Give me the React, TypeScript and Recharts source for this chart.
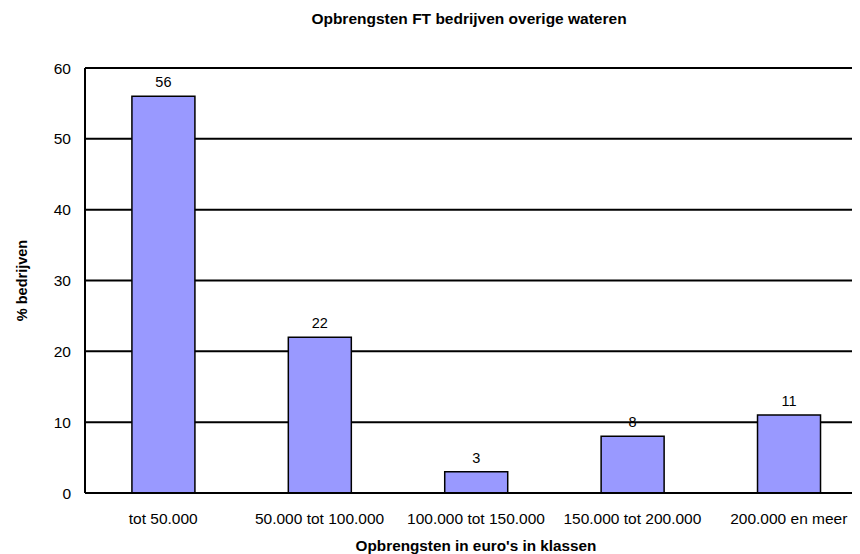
import { BarChart, Bar, XAxis, YAxis, CartesianGrid, LabelList, Label } from "recharts";

const categories = [
  "tot 50.000",
  "50.000 tot 100.000",
  "100.000 tot 150.000",
  "150.000 tot 200.000",
  "200.000 en meer",
];
const percentages = [56, 22, 3, 8, 11];
const yTicks = [0, 10, 20, 30, 40, 50, 60];

const data = categories.map((name, i) => ({ name, value: percentages[i] }));

const font = "Arial, 'Liberation Sans', sans-serif";

const App = () => {
  return (
    <div style={{ position: "relative", width: 852, height: 546, overflow: "hidden", fontFamily: font }}>
      <div
        style={{
          position: "absolute",
          top: 3,
          left: 61,
          width: 800,
          textAlign: "center",
          fontWeight: "bold",
          fontSize: 15.5,
          lineHeight: "15px",
          color: "#000",
        }}
      >
        Opbrengsten FT bedrijven overige wateren
      </div>
      <BarChart
        width={870}
        height={546}
        data={data}
        margin={{ top: 60, right: 11, bottom: 0, left: 0 }}
        barCategoryGap="30%"
        style={{ fontFamily: font }}
      >
        <CartesianGrid vertical={false} stroke="#000" strokeWidth={2} />
        <XAxis
          dataKey="name"
          height={61}
          tickSize={0}
          tickMargin={20}
          tickLine={false}
          axisLine={{ stroke: "#000", strokeWidth: 2 }}
          tick={{ fill: "#000", fontSize: 15.5 }}
          interval={0}
        >
          <Label
            value="Opbrengsten in euro's in klassen"
            position="insideBottom"
            offset={3}
            style={{ fontWeight: "bold", fontSize: 15.3, fill: "#000" }}
          />
        </XAxis>
        <YAxis
          width={77}
          domain={[0, 60]}
          ticks={yTicks}
          tickSize={0}
          tickMargin={14}
          tickLine={false}
          axisLine={{ stroke: "#000", strokeWidth: 2 }}
          tick={{ fill: "#000", fontSize: 15.5 }}
        >
          <Label
            value="% bedrijven"
            angle={-90}
            position="insideLeft"
            offset={14}
            style={{ textAnchor: "middle", fontWeight: "bold", fontSize: 14.5, fill: "#000" }}
          />
        </YAxis>
        <Bar dataKey="value" fill="#9999FF" stroke="#000" strokeWidth={1.5} isAnimationActive={false}>
          <LabelList dataKey="value" position="top" offset={9} fill="#000" fontSize={14.5} />
        </Bar>
      </BarChart>
    </div>
  );
};

export default App;
